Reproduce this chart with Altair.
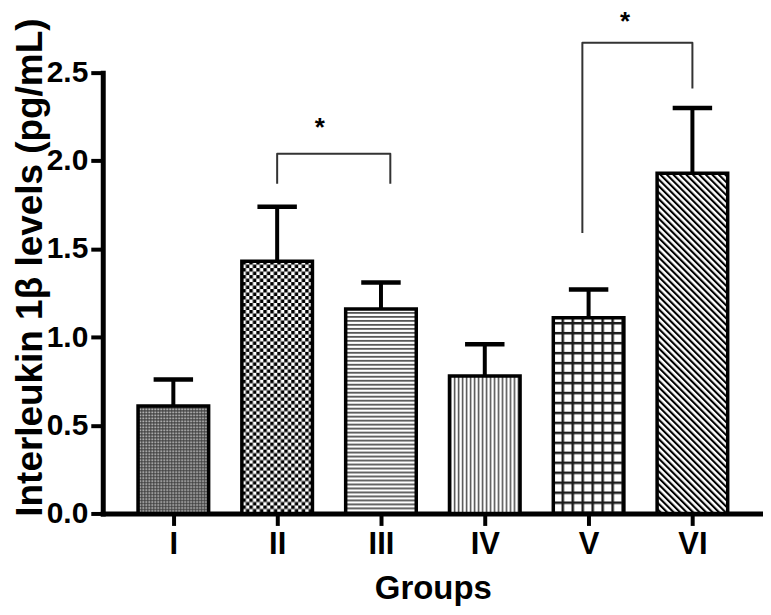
import json
import altair as alt
import pandas as pd

# ---- data ----
groups = ["I", "II", "III", "IV", "V", "VI"]
positions = [0, 1, 2, 3, 4, 5]
means = [0.61, 1.43, 1.16, 0.78, 1.11, 1.93]
upper = [0.76, 1.74, 1.31, 0.96, 1.27, 2.30]
pattern_ids = ["pI", "pII", "pIII", "pIV", "pV", "pVI"]

# significance brackets (II vs III, V vs VI)
br_id = ["II-III"] * 4 + ["V-VI"] * 4
br_order = [0, 1, 2, 3, 0, 1, 2, 3]
br_x = [1.0, 1.0, 2.09, 2.09, 3.94, 3.94, 5.0, 5.0]
br_y = [1.87, 2.04, 2.04, 1.87, 1.59, 2.67, 2.67, 2.41]
star_x = [1.41, 4.35]
star_y = [2.14, 2.74]
star_text = ["*", "*"]

y_ticks = [0.0, 0.5, 1.0, 1.5, 2.0, 2.5]

BAR_HALF = 0.34
CAP_HALF = 0.19
FONT = "Liberation Sans"

df = pd.DataFrame({
    "group": groups,
    "pos": positions,
    "mean": means,
    "upper": upper,
})
df["x0"] = df["pos"] - BAR_HALF
df["x1"] = df["pos"] + BAR_HALF
df["c0"] = df["pos"] - CAP_HALF
df["c1"] = df["pos"] + CAP_HALF

br = pd.DataFrame({"id": br_id, "o": br_order, "x": br_x, "y": br_y})
stars = pd.DataFrame({"x": star_x, "y": star_y, "t": star_text})

xscale = alt.Scale(domain=[-0.68, 5.68], nice=False, zero=False)
yscale = alt.Scale(domain=[0, 2.5], nice=False)

label_expr = json.dumps(groups) + "[datum.value]"

xaxis = alt.Axis(
    values=positions, labelExpr=label_expr, title="Groups",
    grid=False, tickSize=12, tickWidth=4, tickColor="black",
    domainWidth=5, domainColor="black", domainCap="square",
    labelFont=FONT, labelFontSize=31, labelFontWeight="bold", labelColor="black",
    labelPadding=4,
    titleFont=FONT, titleFontSize=33, titleFontWeight="bold", titleColor="black",
    titleY=85, titleBaseline="alphabetic",
)
yaxis = alt.Axis(
    values=y_ticks, format=".1f", title="Interleukin 1β levels (pg/mL)",
    grid=False, tickSize=12, tickWidth=4, tickColor="black",
    domainWidth=5, domainColor="black", domainCap="square",
    labelFont=FONT, labelFontSize=30, labelFontWeight="bold", labelColor="black",
    labelPadding=3,
    titleFont=FONT, titleFontSize=37, titleFontWeight="bold", titleColor="black",
    titleAngle=270, titleX=-61, titleY=195, titleAlign="center", titleBaseline="alphabetic",
)

base = alt.Chart(df)

stems = base.mark_rule(color="black", strokeWidth=4).encode(
    x=alt.X("pos:Q", scale=xscale, axis=xaxis),
    y=alt.Y("mean:Q", scale=yscale, axis=yaxis),
    y2="upper:Q",
)
caps = base.mark_rule(color="black", strokeWidth=4.5).encode(
    x=alt.X("c0:Q", scale=xscale),
    x2="c1:Q",
    y=alt.Y("upper:Q", scale=yscale),
)
bars = base.mark_rect(stroke="black", strokeWidth=3.5, strokeJoin="miter").encode(
    x=alt.X("x0:Q", scale=xscale),
    x2="x1:Q",
    y=alt.Y("mean:Q", scale=yscale),
    y2=alt.datum(0),
    fill=alt.Fill("group:N",
                  scale=alt.Scale(domain=groups, range=["url(#%s)" % p for p in pattern_ids]),
                  legend=None),
)
brackets = alt.Chart(br).mark_line(color="#333333", strokeWidth=2, strokeJoin="round").encode(
    x=alt.X("x:Q", scale=xscale),
    y=alt.Y("y:Q", scale=yscale),
    detail="id:N",
    order="o:Q",
)
star_marks = alt.Chart(stars).mark_text(
    font=FONT, fontSize=26, fontWeight="bold", color="black", baseline="alphabetic"
).encode(
    x=alt.X("x:Q", scale=xscale),
    y=alt.Y("y:Q", scale=yscale),
    text="t:N",
)

chart = alt.layer(stems, caps, bars, brackets, star_marks).properties(
    width=662, height=442,
    padding={"left": 95, "top": 64, "right": 0, "bottom": 93},
    autosize="none",
    background="white",
).configure_view(stroke=None, strokeWidth=0)

chart.save("out.html", embed_options={"renderer": "svg", "actions": False})

# ---- fill patterns (SVG defs referenced by the bar fills) ----
defs = """
<svg width="0" height="0" style="position:absolute;left:0;top:0" aria-hidden="true"><defs>
<pattern id="pI" patternUnits="userSpaceOnUse" width="3" height="3">
  <rect width="3" height="3" fill="#3a3a3a"/><rect x="0.8" y="0.8" width="1.5" height="1.5" fill="#ffffff"/>
</pattern>
<pattern id="pII" patternUnits="userSpaceOnUse" width="7" height="7">
  <rect width="7" height="7" fill="#ffffff"/>
  <rect x="0" y="0" width="3.5" height="3.5" fill="#000000"/>
  <rect x="3.5" y="3.5" width="3.5" height="3.5" fill="#000000"/>
</pattern>
<pattern id="pIII" patternUnits="userSpaceOnUse" width="4" height="4">
  <rect width="4" height="4" fill="#ffffff"/><rect x="0" y="0" width="4" height="1.8" fill="#555555"/>
</pattern>
<pattern id="pIV" patternUnits="userSpaceOnUse" width="4" height="4">
  <rect width="4" height="4" fill="#ffffff"/><rect x="0" y="0" width="1.5" height="4" fill="#4a4a4a"/>
</pattern>
<pattern id="pV" patternUnits="userSpaceOnUse" width="10" height="10">
  <rect width="10" height="10" fill="#ffffff"/>
  <rect x="0" y="0" width="2.5" height="10" fill="#1a1a1a"/>
  <rect x="0" y="0" width="10" height="2.5" fill="#1a1a1a"/>
</pattern>
<pattern id="pVI" patternUnits="userSpaceOnUse" width="4.6" height="4.6" patternTransform="rotate(-45)">
  <rect width="4.6" height="4.6" fill="#ffffff"/><rect x="0" y="0" width="2.1" height="4.6" fill="#000000"/>
</pattern>
</defs></svg>
"""
with open("out.html", encoding="utf-8") as f:
    html = f.read()
if "<body>" in html:
    html = html.replace("<body>", "<body>" + defs, 1)
else:
    html = html.replace('<div id="vis"', defs + '<div id="vis"', 1)
with open("out.html", "w", encoding="utf-8") as f:
    f.write(html)
